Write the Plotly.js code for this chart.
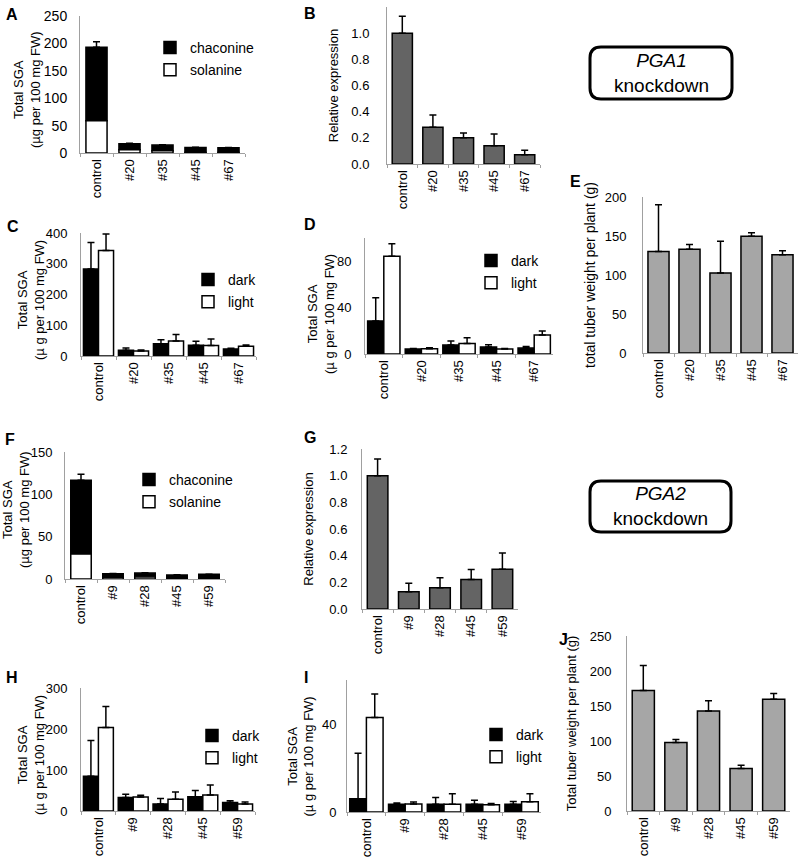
<!DOCTYPE html>
<html><head><meta charset="utf-8">
<script src="https://cdn.plot.ly/plotly-3.0.1.min.js"></script>
<style>html,body{margin:0;padding:0;background:#fff}#chart{width:799px;height:859px}</style>
</head><body><div id="chart"></div>
<script>
// ---------------- data ----------------
const catsPGA1 = ['control', '#20', '#35', '#45', '#67'];
const catsPGA2 = ['control', '#9', '#28', '#45', '#59'];

const aChaconine = [134, 11, 10.5, 9, 8.7];
const aSolanine = [59, 6, 4, 1, 1];
const aErr = [10, 1, 0.5, 0.3, 0.3];

const bExpr = [1.0, 0.28, 0.20, 0.14, 0.07];
const bErr = [0.13, 0.094, 0.037, 0.09, 0.036];

const cDark = [283, 18.5, 40, 35, 23];
const cDarkErr = [86, 7.5, 13, 13, 2];
const cLight = [343, 16, 49, 34, 31.6];
const cLightErr = [54, 3.5, 21, 21, 4.4];

const dDark = [28.5, 4.3, 7.7, 6, 5.1];
const dDarkErr = [20, 0.5, 3.4, 2, 1.4];
const dLight = [84.3, 4.6, 9.1, 4.3, 16.3];
const dLightErr = [10.8, 0.8, 4.9, 0.5, 3.5];

const eWeight = [130, 133, 102.6, 149.6, 126];
const eErr = [60, 6, 40.6, 4.7, 5];

const fChaconine = [87.3, 4.3, 4.5, 4.2, 4.5];
const fSolanine = [29.4, 2, 2.5, 0.5, 1];
const fErr = [7, 0.3, 0.3, 0.2, 0.2];

const gExpr = [1.0, 0.13, 0.16, 0.222, 0.2975];
const gErr = [0.125, 0.063, 0.075, 0.075, 0.1225];

const hDark = [85, 32.7, 17.2, 35, 21];
const hDarkErr = [86.7, 8, 13, 15, 4];
const hLight = [203.6, 34.3, 28.6, 39, 17];
const hLightErr = [51.5, 4, 18, 24.5, 5];

const iDark = [6, 3.5, 3.5, 3.5, 3.5];
const iDarkErr = [20.7, 0.6, 3.1, 1.8, 1.3];
const iLight = [42.9, 3.6, 3.5, 3.3, 4.7];
const iLightErr = [10.7, 0.9, 4.8, 0.6, 3.6];

const jWeight = [172, 97.8, 142.7, 60.6, 159.8];
const jErr = [36, 4.3, 14.8, 4.8, 8];

// ---------------- layout helpers ----------------
const W = 799, H = 859;
const px = x => x / W;
const py = y => 1 - y / H;
const FONT = 'Arial, "Liberation Sans", Helvetica, sans-serif';
const AXC = '#a0a0a0';

const layout = {
  width: W, height: H,
  margin: {l: 0, r: 0, t: 0, b: 0},
  paper_bgcolor: '#fff', plot_bgcolor: '#fff',
  font: {family: FONT, color: '#000', size: 13},
  barmode: 'overlay',
  showlegend: true,
  shapes: [], annotations: []
};
const traces = [];

function axName(n) { return n === 1 ? '' : String(n); }

function addAxes(n, box, o) {
  const s = axName(n);
  layout['xaxis' + s] = {
    domain: [px(box[0]), px(box[1])], anchor: 'y' + s,
    type: 'category', categoryorder: 'array', categoryarray: o.cats,
    range: [-0.5, 4.5], tickangle: -90, ticks: 'outside', tickson: 'boundaries',
    ticklen: 3, tickcolor: AXC, showline: true, linecolor: AXC, linewidth: 1,
    tickfont: {size: 13, color: '#000'}, showgrid: false, zeroline: false, fixedrange: true
  };
  const ya = {
    domain: [py(box[3]), py(box[2])], anchor: 'x' + s,
    range: o.range, tick0: 0, dtick: o.dtick, tickformat: o.fmt || '',
    ticks: '', showline: true, linecolor: AXC, linewidth: 1,
    ticklabelstandoff: o.lso,
    showgrid: false, zeroline: false, fixedrange: true,
    tickfont: {size: o.tf || 13, color: '#000'}
  };
  if (o.title) {
    ya.title = {text: o.title, font: {size: o.ttf || 13, color: '#000'}, standoff: o.standoff};
  }
  layout['yaxis' + s] = ya;
  if (o.titleAt) {
    // two-line y title placed as rotated text
    layout.annotations.push({text: o.titleText, x: px(o.titleAt[0]), y: py(o.titleAt[1]),
      xref: 'paper', yref: 'paper', xanchor: 'center', yanchor: 'middle', textangle: -90,
      showarrow: false, font: {size: 13, color: '#000'}});
  }
}

function errY(e) {
  return {type: 'data', array: e, arrayminus: e.map(() => 0), symmetric: false,
          color: '#000', thickness: 1.5, width: 3.5, visible: true};
}

function bar(n, cats, y, err, color, extra) {
  const s = axName(n);
  const t = Object.assign({
    type: 'bar', x: cats, y: y, xaxis: 'x' + s, yaxis: 'y' + s,
    marker: {color: color, line: {color: '#000', width: 1.5}},
    error_y: errY(err), hoverinfo: 'skip', showlegend: false
  }, extra || {});
  traces.push(t);
}

function legendDef(x, y) {
  return {x: px(x), y: py(y), xanchor: 'left', yanchor: 'top', bgcolor: 'rgba(0,0,0,0)',
          borderwidth: 0, font: {size: 14, color: '#000'}, tracegroupgap: 1,
          traceorder: 'grouped', itemclick: false, itemdoubleclick: false};
}

function letter(t, x, y) {
  layout.annotations.push({text: '<b>' + t + '</b>', x: px(x), y: py(y), xref: 'paper', yref: 'paper',
    xanchor: 'left', yanchor: 'top', showarrow: false, font: {size: 16, color: '#000'}});
}

function roundBox(x0, y0, x1, y1, r, lines) {
  const P = (a, b) => px(a) + ',' + py(b);
  const path = 'M' + P(x0 + r, y0) + ' L' + P(x1 - r, y0) + ' Q' + P(x1, y0) + ' ' + P(x1, y0 + r) +
    ' L' + P(x1, y1 - r) + ' Q' + P(x1, y1) + ' ' + P(x1 - r, y1) +
    ' L' + P(x0 + r, y1) + ' Q' + P(x0, y1) + ' ' + P(x0, y1 - r) +
    ' L' + P(x0, y0 + r) + ' Q' + P(x0, y0) + ' ' + P(x0 + r, y0) + ' Z';
  layout.shapes.push({type: 'path', path: path, xref: 'paper', yref: 'paper',
    line: {color: '#000', width: 3}, fillcolor: 'rgba(0,0,0,0)'});
  layout.annotations.push({text: lines, x: px((x0 + x1) / 2), y: py((y0 + y1) / 2), xref: 'paper', yref: 'paper',
    xanchor: 'center', yanchor: 'middle', showarrow: false, font: {size: 19, color: '#000'}});
}

const sgaTitle = 'Total SGA<br>(µg per 100 mg FW)';
const sgaTitle2 = 'Total SGA<br>(µ g per 100 mg FW)';
const GDW = 0.43;

// ---------- A ----------
addAxes(1, [80, 245, 16, 153], {cats: catsPGA1, range: [0, 250], dtick: 50, tf: 14, lso: 9, titleText: sgaTitle, titleAt: [27, 90]});
bar(1, catsPGA1, aChaconine, aErr, '#000', {name: 'chaconine', base: aSolanine, width: 0.64, showlegend: true, legend: 'legend', legendgroup: 'a1'});
bar(1, catsPGA1, aSolanine, aSolanine.map(() => 0), '#fff', {name: 'solanine', width: 0.64, showlegend: true, legend: 'legend', legendgroup: 'a2', error_y: {visible: false}});
layout.legend = legendDef(150, 32);

// ---------- B ----------
addAxes(2, [387, 540, 7, 164], {cats: catsPGA1, range: [0, 1.2], dtick: 0.2, fmt: '.1f', title: 'Relative expression', lso: 14, standoff: 9});
bar(2, catsPGA1, bExpr, bErr, '#646464', {name: 'PGA1 expression', width: 0.66});

// ---------- C ----------
addAxes(3, [81, 256, 233, 356], {cats: catsPGA1, range: [0, 400], dtick: 100, lso: 10, titleText: sgaTitle2, titleAt: [31, 300]});
bar(3, catsPGA1, cDark, cDarkErr, '#000', {name: 'dark', width: GDW, offset: -GDW, showlegend: true, legend: 'legend2', legendgroup: 'c1'});
bar(3, catsPGA1, cLight, cLightErr, '#fff', {name: 'light', width: GDW, offset: 0, showlegend: true, legend: 'legend2', legendgroup: 'c2'});
layout.legend2 = legendDef(188, 264);

// ---------- D ----------
addAxes(4, [365, 553, 238, 354], {cats: catsPGA1, range: [0, 100], dtick: 40, lso: 10, titleText: sgaTitle2, titleAt: [321, 314]});
bar(4, catsPGA1, dDark, dDarkErr, '#000', {name: 'dark', width: GDW, offset: -GDW, showlegend: true, legend: 'legend3', legendgroup: 'd1'});
bar(4, catsPGA1, dLight, dLightErr, '#fff', {name: 'light', width: GDW, offset: 0, showlegend: true, legend: 'legend3', legendgroup: 'd2'});
layout.legend3 = legendDef(471, 245);

// ---------- E ----------
addAxes(5, [643, 798, 197, 353], {cats: catsPGA1, range: [0, 200], dtick: 50, title: 'total tuber weight per plant (g)', ttf: 14, lso: 13, standoff: 5});
bar(5, catsPGA1, eWeight, eErr, '#a6a6a6', {name: 'PGA1 tuber weight', width: 0.68});

// ---------- F ----------
addAxes(6, [65, 225, 452, 579], {cats: catsPGA2, range: [0, 150], dtick: 50, lso: 9, titleText: sgaTitle, titleAt: [16, 510]});
bar(6, catsPGA2, fChaconine, fErr, '#000', {name: 'chaconine', base: fSolanine, width: 0.64, showlegend: true, legend: 'legend4', legendgroup: 'f1'});
bar(6, catsPGA2, fSolanine, fSolanine.map(() => 0), '#fff', {name: 'solanine', width: 0.64, showlegend: true, legend: 'legend4', legendgroup: 'f2', error_y: {visible: false}});
layout.legend4 = legendDef(129, 464);

// ---------- G ----------
addAxes(7, [362, 518, 449, 609], {cats: catsPGA2, range: [0, 1.2], dtick: 0.2, fmt: '.1f', title: 'Relative expression', lso: 11, standoff: 12});
bar(7, catsPGA2, gExpr, gErr, '#646464', {name: 'PGA2 expression', width: 0.66});

// ---------- H ----------
addAxes(8, [81, 255, 688, 811], {cats: catsPGA2, range: [0, 300], dtick: 100, lso: 10, titleText: sgaTitle2, titleAt: [31, 755]});
bar(8, catsPGA2, hDark, hDarkErr, '#000', {name: 'dark', width: GDW, offset: -GDW, showlegend: true, legend: 'legend5', legendgroup: 'h1'});
bar(8, catsPGA2, hLight, hLightErr, '#fff', {name: 'light', width: GDW, offset: 0, showlegend: true, legend: 'legend5', legendgroup: 'h2'});
layout.legend5 = legendDef(192, 720);

// ---------- I ----------
addAxes(9, [347, 541, 680, 812], {cats: catsPGA2, range: [0, 60], dtick: 40, lso: 7, titleText: sgaTitle2, titleAt: [300.5, 757]});
bar(9, catsPGA2, iDark, iDarkErr, '#000', {name: 'dark', width: GDW, offset: -GDW, showlegend: true, legend: 'legend6', legendgroup: 'i1'});
bar(9, catsPGA2, iLight, iLightErr, '#fff', {name: 'light', width: GDW, offset: 0, showlegend: true, legend: 'legend6', legendgroup: 'i2'});
layout.legend6 = legendDef(476, 719);

// ---------- J ----------
addAxes(10, [627, 790, 636, 811], {cats: catsPGA2, range: [0, 250], dtick: 50, title: 'Total tuber weight per plant (g)', lso: 12, standoff: 10});
bar(10, catsPGA2, jWeight, jErr, '#a6a6a6', {name: 'PGA2 tuber weight', width: 0.68});

// ---------- letters & boxes ----------
letter('A', 4, 4); letter('B', 302, 3); letter('C', 5, 216); letter('D', 302, 214);
letter('E', 568, 171); letter('F', 3, 429); letter('G', 302, 427); letter('H', 4, 667);
letter('I', 302, 667); letter('J', 557, 629);
roundBox(590, 47, 732, 99, 11, '<i>PGA1</i><br>knockdown');
roundBox(590, 481, 731, 532, 11, '<i>PGA2</i><br>knockdown');

Plotly.newPlot('chart', traces, layout, {displayModeBar: false, staticPlot: true});
</script></body></html>
